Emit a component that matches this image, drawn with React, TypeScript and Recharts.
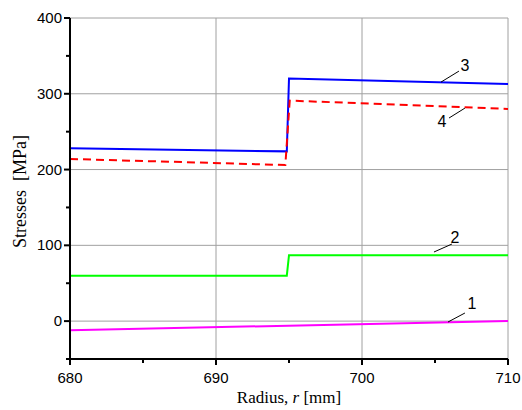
import { LineChart, Line, XAxis, YAxis, CartesianGrid, ReferenceLine, ReferenceDot, Label } from "recharts";

// radius [mm] and stress [MPa] for each curve
const r1 = [680, 710];
const s1 = [-12, 0];
const r2 = [680, 694.85, 695, 710];
const s2 = [60, 60, 87, 87];
const r3 = [680, 694.85, 695, 710];
const s3 = [228, 224, 320, 313];
const r4 = [680, 694.75, 695.05, 710];
const s4 = [214, 206, 291, 280];

const xTicks = [680, 685, 690, 695, 700, 705, 710];
const xMajor = [680, 690, 700, 710];
const yTicks = [-50, 0, 50, 100, 150, 200, 250, 300, 350, 400];
const yMajor = [0, 100, 200, 300, 400];

// curve number labels with their leader lines (data coordinates)
const tagNames = ["1", "2", "3", "4"];
const tagAt = [
  { x: 707.53, y: 24 },
  { x: 706.37, y: 111 },
  { x: 707.05, y: 338 },
  { x: 705.48, y: 263 },
];
const leaders = [
  [{ x: 705.89, y: -1.2 }, { x: 707.05, y: 10.7 }],
  [{ x: 704.93, y: 91.2 }, { x: 706.16, y: 101.7 }],
  [{ x: 705.41, y: 315.4 }, { x: 706.64, y: 329.9 }],
  [{ x: 705.96, y: 268 }, { x: 707.05, y: 281.1 }],
];

const toPoints = (rs: number[], vs: number[]) => rs.map((r, i) => ({ r, v: vs[i] }));

const sans = "'Liberation Sans', Arial, sans-serif";
const serif = "'Liberation Serif', 'Times New Roman', serif";

const XTick = (props: any) => {
  const { x, y, payload } = props;
  const major = xMajor.includes(payload.value);
  return (
    <g>
      <line x1={x} x2={x} y1={y} y2={y + (major ? 6 : 4)} stroke="#000" strokeWidth={2} />
      {major && (
        <text x={x} y={y + 24} textAnchor="middle" fontFamily={sans} fontSize={15} fill="#000">
          {payload.value}
        </text>
      )}
    </g>
  );
};

const YTick = (props: any) => {
  const { x, y, payload } = props;
  const major = yMajor.includes(payload.value);
  return (
    <g>
      <line x1={x} x2={x - (major ? 6 : 4)} y1={y} y2={y} stroke="#000" strokeWidth={2} />
      {major && (
        <text x={x - 8} y={y + 5} textAnchor="end" fontFamily={sans} fontSize={15} fill="#000">
          {payload.value}
        </text>
      )}
    </g>
  );
};

const App = () => {
  return (
    <div style={{ position: "absolute", left: 0, top: 0 }}>
      <LineChart width={522} height={410} margin={{ top: 18, right: 14, bottom: 0, left: 0 }}>
        <CartesianGrid
          stroke="#a0a0a0"
          horizontalValues={yMajor}
          verticalValues={[690, 700, 710]}
        />
        <XAxis
          dataKey="r"
          type="number"
          domain={[680, 710]}
          ticks={xTicks}
          allowDataOverflow
          height={51}
          tickSize={0}
          tickMargin={0}
          tick={<XTick />}
          axisLine={{ stroke: "#000", strokeWidth: 2 }}
          tickLine={false}
        >
          <Label
            content={(p: any) => (
              <text
                x={p.viewBox.x + p.viewBox.width / 2}
                y={p.viewBox.y + 44}
                textAnchor="middle"
                fontFamily={serif}
                fontSize={17}
                fill="#000"
              >
                Radius, <tspan fontStyle="italic">r</tspan> [mm]
              </text>
            )}
          />
        </XAxis>
        <YAxis
          dataKey="v"
          type="number"
          domain={[-50, 400]}
          ticks={yTicks}
          allowDataOverflow
          width={70}
          tickSize={0}
          tickMargin={0}
          tick={<YTick />}
          axisLine={{ stroke: "#000", strokeWidth: 2 }}
          tickLine={false}
        >
          <Label
            content={(p: any) => {
              const cy = p.viewBox.y + p.viewBox.height / 2 + 3;
              return (
                <text
                  x={26}
                  y={cy}
                  transform={`rotate(-90, 26, ${cy})`}
                  textAnchor="middle"
                  fontFamily={serif}
                  fontSize={18}
                  fill="#000"
                  style={{ whiteSpace: "pre" }}
                >
                  {"Stresses  [MPa]"}
                </text>
              );
            }}
          />
        </YAxis>
        <Line data={toPoints(r1, s1)} dataKey="v" stroke="#ff00ff" strokeWidth={2} dot={false} isAnimationActive={false} />
        <Line data={toPoints(r2, s2)} dataKey="v" stroke="#00ff00" strokeWidth={2} dot={false} isAnimationActive={false} />
        <Line data={toPoints(r3, s3)} dataKey="v" stroke="#0000ff" strokeWidth={2} dot={false} isAnimationActive={false} />
        <Line
          data={toPoints(r4, s4)}
          dataKey="v"
          stroke="#ff0000"
          strokeWidth={2}
          strokeDasharray="8 5"
          dot={false}
          isAnimationActive={false}
        />
        {leaders.map((seg, i) => (
          <ReferenceLine key={`l${i}`} segment={seg} stroke="#000" strokeWidth={1} />
        ))}
        {tagNames.map((name, i) => (
          <ReferenceDot
            key={`t${i}`}
            x={tagAt[i].x}
            y={tagAt[i].y}
            r={0}
            stroke="none"
            fill="none"
            label={{ value: name, position: "center", fontFamily: sans, fontSize: 16, fill: "#000" }}
          />
        ))}
      </LineChart>
    </div>
  );
};

export default App;
